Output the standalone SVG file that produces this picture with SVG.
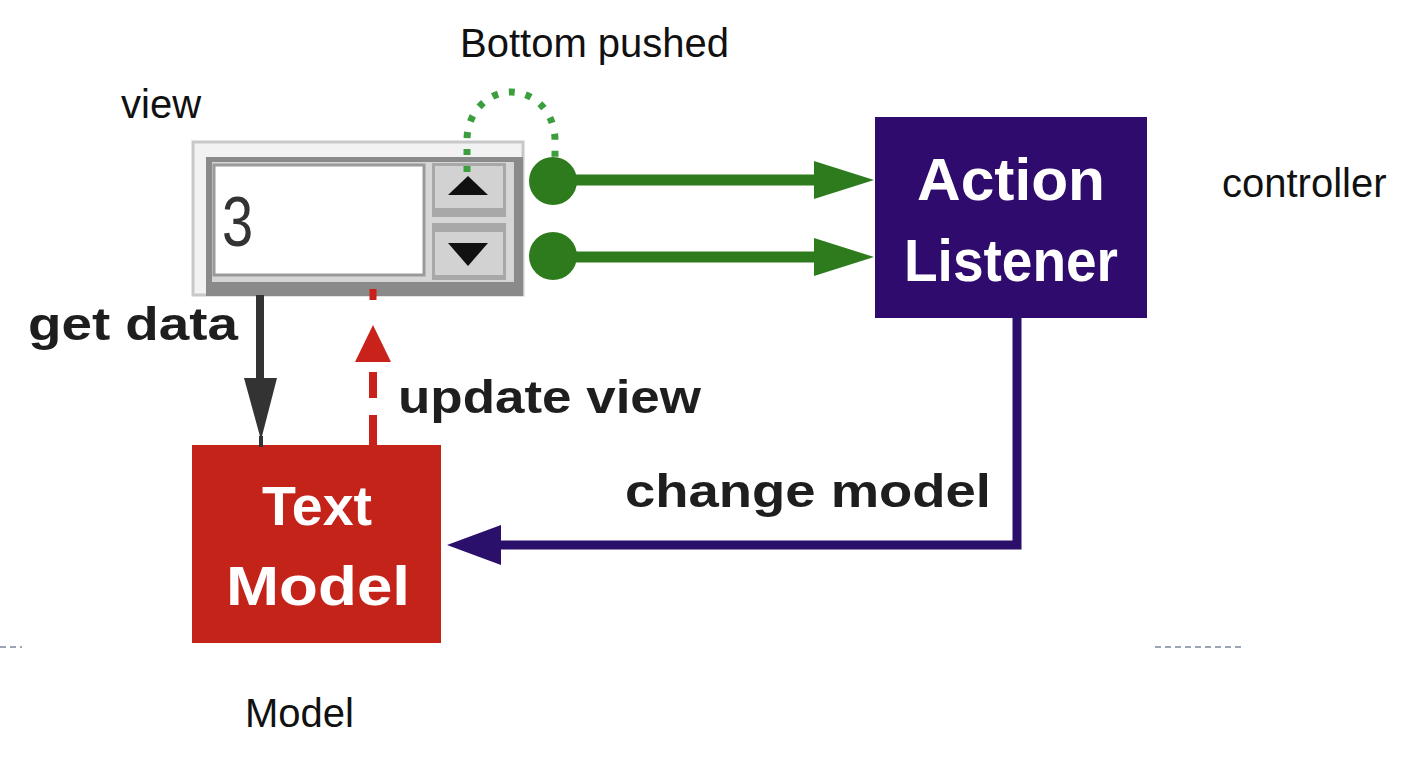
<svg xmlns="http://www.w3.org/2000/svg" width="1410" height="762" viewBox="0 0 1410 762">
<style>
.lbl{font-family:"Liberation Sans",Arial,sans-serif;font-size:40px;fill:#111}
.bold{font-family:"Liberation Sans",Arial,sans-serif;font-weight:bold;font-size:46px;fill:#1e1e1e}
.wt{font-family:"Liberation Sans",Arial,sans-serif;font-weight:bold;fill:#fff;text-anchor:middle}
.green{stroke:#2e7b1e;stroke-width:11;fill:none}
</style>
<rect width="1410" height="762" fill="#fff"/>

<g id="labels">
<text class="lbl" x="460" y="57">Bottom pushed</text>
<text class="lbl" x="121" y="118">view</text>
<text class="lbl" x="1222" y="197">controller</text>
<text class="lbl" x="245" y="727">Model</text>
</g>

<g id="spinner">
<rect x="193" y="142" width="330" height="153" fill="#f2f2f2" stroke="#c8c8c8" stroke-width="3"/>
<rect x="206" y="157" width="317" height="139" fill="#8a8a8a"/>
<rect x="212" y="162" width="302" height="120" fill="#d6d6d6"/>
<rect x="214" y="165" width="210" height="110" fill="#fff" stroke="#9a9a9a" stroke-width="3"/>
<text x="222" y="246" font-family="Liberation Sans Narrow,Liberation Sans,Arial,sans-serif" font-size="70" fill="#333" transform="translate(222 0) scale(0.8 1) translate(-222 0)">3</text>
<rect x="432" y="163" width="74" height="54" fill="#a8a8a8"/>
<rect x="435" y="166" width="68" height="42" fill="#d2d2d2"/>
<polygon points="448,195 468,176 488,195" fill="#111"/>
<rect x="432" y="223" width="74" height="57" fill="#a8a8a8"/>
<rect x="435" y="232" width="68" height="43" fill="#d2d2d2"/>
<polygon points="448,243 488,243 468,266" fill="#111"/>
</g>

<g id="action-listener">
<rect x="875" y="117" width="272" height="201" fill="#2e0b6c"/>
<text class="wt" x="1011" y="200" font-size="60" textLength="188" lengthAdjust="spacingAndGlyphs">Action</text>
<text class="wt" x="1011" y="281" font-size="60" textLength="214" lengthAdjust="spacingAndGlyphs">Listener</text>
</g>

<g id="text-model">
<rect x="192" y="445" width="249" height="198" fill="#c4231a"/>
<text class="wt" x="317" y="525" font-size="56" textLength="110" lengthAdjust="spacingAndGlyphs">Text</text>
<text class="wt" x="318" y="605" font-size="56" textLength="184" lengthAdjust="spacingAndGlyphs">Model</text>
</g>

<g id="connectors">
<path d="M467,172 L467,140 A44,48 0 0 1 555,140 L555,158" fill="none" stroke="#3d9e3d" stroke-width="7" stroke-dasharray="6 11"/>
<circle cx="553" cy="181" r="24" fill="#2e7b1e"/>
<circle cx="553" cy="256" r="24" fill="#2e7b1e"/>
<line class="green" x1="560" y1="180" x2="820" y2="180"/>
<line class="green" x1="560" y1="257" x2="820" y2="257"/>
<polygon points="814,161 874,180 814,199" fill="#2e7b1e"/>
<polygon points="814,238 874,257 814,276" fill="#2e7b1e"/>

<line x1="260" y1="295" x2="260" y2="385" stroke="#333" stroke-width="8"/>
<polygon points="244,378 277,378 261,440" fill="#333"/>
<line x1="261" y1="436" x2="261" y2="447" stroke="#333" stroke-width="4"/>

<line x1="373" y1="289" x2="373" y2="300" stroke="#c8221a" stroke-width="7"/>
<polygon points="373,325 355,362 391,362" fill="#c8221a"/>
<line x1="373" y1="372" x2="373" y2="398" stroke="#c8221a" stroke-width="8"/>
<line x1="373" y1="415" x2="373" y2="446" stroke="#c8221a" stroke-width="8"/>

<polyline points="1017,318 1017,545 495,545" fill="none" stroke="#2a0f6b" stroke-width="9"/>
<polygon points="447,545 501,525 501,565" fill="#2a0f6b"/>
</g>

<g id="edge-labels">
<text class="bold" x="28" y="340" textLength="210" lengthAdjust="spacingAndGlyphs">get data</text>
<text class="bold" x="398" y="413" textLength="303" lengthAdjust="spacingAndGlyphs">update view</text>
<text class="bold" x="625" y="507" textLength="366" lengthAdjust="spacingAndGlyphs">change model</text>
</g>

<g id="dividers" stroke="#9aa4b4" stroke-width="2" stroke-dasharray="6 4">
<line x1="0" y1="647" x2="22" y2="647"/>
<line x1="1155" y1="647" x2="1243" y2="647"/>
</g>
</svg>
